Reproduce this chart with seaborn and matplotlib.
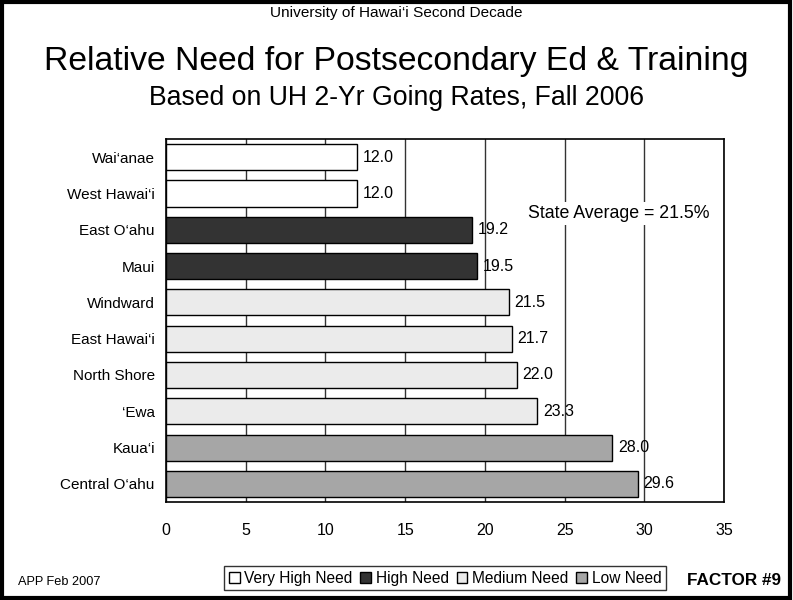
import seaborn as sns
import pandas as pd
import matplotlib.pyplot as plt
from matplotlib.patches import Rectangle

# 数据
regions = ["Wai‘anae", "West Hawai‘i", "East O‘ahu", "Maui", "Windward",
           "East Hawai‘i", "North Shore", "‘Ewa", "Kaua‘i", "Central O‘ahu"]
rates = [12.0, 12.0, 19.2, 19.5, 21.5, 21.7, 22.0, 23.3, 28.0, 29.6]
need = ["Very High Need", "Very High Need", "High Need", "High Need",
        "Medium Need", "Medium Need", "Medium Need", "Medium Need",
        "Low Need", "Low Need"]
need_levels = ["Very High Need", "High Need", "Medium Need", "Low Need"]
need_colors = ["#FFFFFF", "#333333", "#EBEBEB", "#A6A6A6"]
state_avg = 21.5

df = pd.DataFrame({"region": regions, "rate": rates, "need": need})

sns.set_style("white")
plt.rcParams['font.family'] = ['Liberation Sans', 'DejaVu Sans']
plt.rcParams['text.color'] = 'black'
plt.rcParams['xtick.color'] = 'black'
plt.rcParams['ytick.color'] = 'black'

fig = plt.figure(figsize=(7.93, 6.0), dpi=100)
ax = fig.add_axes([0.2093, 0.1633, 0.7037, 0.605])

sns.barplot(data=df, x="rate", y="region", hue="need", hue_order=need_levels,
            palette=dict(zip(need_levels, need_colors)), dodge=False,
            width=0.72, edgecolor="black", linewidth=1, orient="h", ax=ax)

# 数值标签
for i, v in enumerate(rates):
    ax.text(v + 0.35, i, f"{v:.1f}", va="center", ha="left", fontsize=11.5)

ax.text(22.7, 1.55, f"State Average = {state_avg}%", va="center", ha="left",
        fontsize=12.8, bbox=dict(facecolor="white", edgecolor="none", pad=2))

ax.set_xlim(0, 35)
ax.set_xticks(range(0, 36, 5))
ax.set_xlabel("")
ax.set_ylabel("")
ax.xaxis.grid(True, color="#333333", linewidth=1)
ax.set_axisbelow(True)
ax.tick_params(axis="x", labelsize=11.5, length=0, pad=15)
ax.tick_params(axis="y", labelsize=11, length=0, pad=8)
for s in ax.spines.values():
    s.set_color("black")
    s.set_linewidth(1.2)

# 图例
handles, labels = ax.get_legend_handles_labels()
ax.legend(handles, labels, ncol=4, loc="center", bbox_to_anchor=(0.5, -0.21),
          frameon=True, fancybox=False, edgecolor="black", fontsize=11.2,
          handlelength=0.7, handleheight=0.7, handletextpad=0.3,
          columnspacing=0.5, borderpad=0.3, borderaxespad=0)

# 标题文字
fig.text(0.5, 0.978, "University of Hawai‘i Second Decade", ha="center",
         va="center", fontsize=11.1)
fig.text(0.5, 0.898, "Relative Need for Postsecondary Ed & Training",
         ha="center", va="center", fontsize=24.3)
fig.text(0.5, 0.836, "Based on UH 2-Yr Going Rates, Fall 2006", ha="center",
         va="center", fontsize=19.2)
fig.text(0.023, 0.03, "APP Feb 2007", ha="left", va="center", fontsize=9.2)
fig.text(0.985, 0.033, "FACTOR #9", ha="right", va="center", fontsize=12.3,
         fontweight="bold")

# 外框
fig.patches.append(Rectangle((0.002, 0.003), 0.994, 0.994, transform=fig.transFigure,
                             fill=False, edgecolor="black", linewidth=3))

fig.savefig("out.png", dpi=100)
